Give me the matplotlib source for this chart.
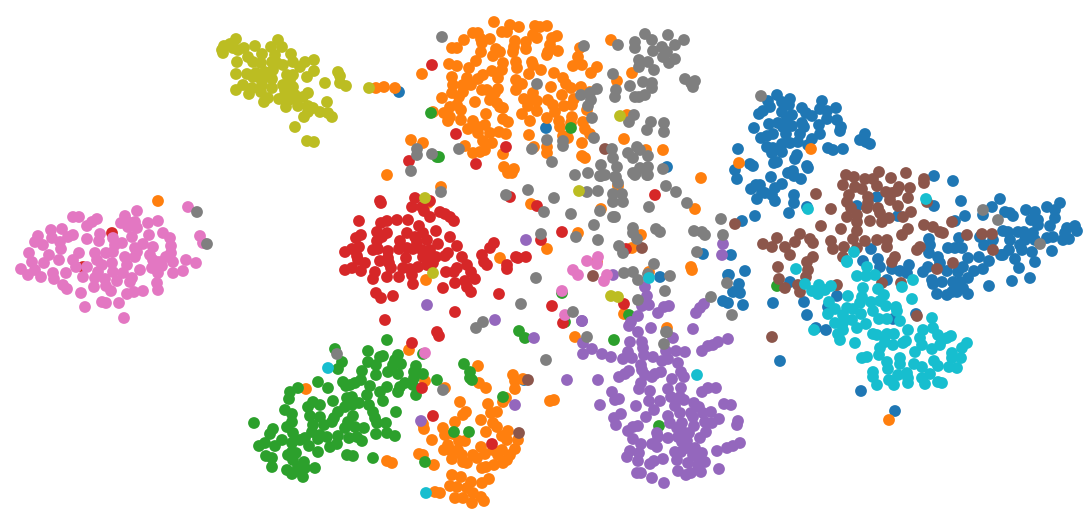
import numpy as np
import matplotlib
matplotlib.use('Agg')
import matplotlib.pyplot as plt

# embedding values, one list of (x, y) per class
class_0 = [(399,92),(546,128),(667,167),(703,254),(660,277),(728,275),(723,301),(728,303),
    (777,95),(768,101),(770,107),(763,111),(759,114),(782,102),(790,99),(789,105),(782,112),(792,115),(787,118),
    (802,108),(806,113),(812,116),(822,101),(820,109),(827,111),(827,119),(836,108),(837,120),(841,127),(840,131),
    (819,125),(820,134),(754,128),(769,124),(778,123),(783,127),(792,126),(802,123),(804,127),(800,134),(786,134),
    (773,134),(767,136),(761,138),(798,142),(790,143),(782,144),(812,139),(808,145),(767,147),(773,148),(772,153),
    (782,152),(738,149),(828,148),(833,150),(843,149),(865,134),(860,140),(866,142),(870,144),(797,155),(795,159),
    (777,162),(774,163),(807,166),(808,168),(750,164),(753,166),(735,170),(737,179),(788,173),(793,171),(794,176),
    (801,179),(771,177),(782,184),(760,185),(756,185),(751,189),(775,188),(762,192),(765,193),(757,199),(772,195),
    (775,201),(794,195),(794,203),(807,207),(789,213),(755,216),(742,221),(731,255),(745,271),(729,275),(739,284),
    (733,292),(740,293),(790,282),(934,176),(953,181),(877,197),(857,206),(934,206),(961,201),(1000,199),(992,207),
    (965,216),(955,221),(898,216),(983,215),(1005,212),(1010,213),(1013,216),(1026,210),(1035,212),(1047,207),
    (1060,203),(1055,210),(1055,218),(1050,226),(1031,220),(1038,220),(1038,225),(1003,231),(1008,232),(1018,232),
    (1024,232),(1033,233),(1035,240),(1067,228),(1075,226),(1077,231),(1065,233),(1063,240),(1069,239),(1053,237),
    (1047,238),(1025,240),(1020,245),(1022,250),(1032,252),(1052,251),(1035,262),(1010,240),(993,240),(984,245),
    (980,237),(1009,250),(1001,255),(1003,255),(1015,259),(1019,268),(989,261),(979,257),(968,258),(959,238),
    (929,239),(930,245),(929,253),(948,248),(955,248),(962,248),(938,257),(940,263),(928,267),(923,272),(947,271),
    (958,272),(963,267),(968,278),(974,271),(983,269),(953,282),(960,282),(955,288),(963,288),(968,294),(932,280),
    (933,284),(942,282),(937,294),(947,295),(952,292),(957,292),(989,286),(1012,281),(1030,278),(871,249),(863,261),
    (878,259),(880,267),(892,269),(900,271),(909,265),(907,273),(887,280),(837,296),(773,303),(804,302),(807,315),
    (816,328),(826,330),(780,361),(861,391),(895,411),(893,319),(916,314),(828,307),(524,380),(743,305)]

class_1 = [(158,201),(376,88),(384,87),(395,88),(494,22),(510,25),(519,27),(507,32),(502,32),(535,26),(540,27),(547,26),
    (473,33),(478,33),(464,40),(481,39),(482,43),(490,39),(515,41),(514,47),(533,35),(537,38),(526,42),(526,49),
    (557,36),(552,38),(550,45),(452,48),(457,48),(481,52),(496,49),(493,56),(500,52),(513,52),(558,51),(548,52),
    (547,55),(580,48),(578,57),(611,40),(476,61),(449,64),(457,66),(469,68),(422,74),(503,63),(502,70),(516,62),
    (517,68),(532,62),(533,65),(541,70),(529,74),(492,71),(483,75),(478,79),(498,78),(467,78),(452,77),(453,85),
    (463,85),(471,85),(516,80),(522,84),(516,90),(554,73),(563,78),(566,84),(571,88),(551,87),(573,66),(582,65),
    (597,67),(591,73),(632,73),(617,81),(581,87),(590,92),(482,90),(487,90),(498,89),(495,93),(452,93),(463,92),
    (459,97),(442,98),(475,102),(490,100),(497,103),(450,107),(457,105),(500,107),(503,108),(533,93),(524,99),
    (533,98),(537,101),(528,106),(537,111),(548,100),(553,105),(555,112),(562,95),(564,106),(572,105),(574,99),
    (587,110),(433,112),(444,113),(450,117),(448,121),(461,110),(461,120),(486,114),(522,114),(530,121),(547,118),
    (559,121),(572,117),(571,123),(583,122),(585,129),(590,134),(503,119),(508,122),(473,121),(468,129),(485,125),
    (478,127),(478,133),(490,133),(499,132),(506,134),(529,135),(560,127),(563,136),(568,138),(483,141),(492,143),
    (465,146),(411,140),(423,143),(473,153),(480,152),(485,150),(503,154),(534,147),(547,147),(547,153),(582,143),
    (582,156),(585,158),(624,139),(646,150),(663,150),(627,115),(504,167),(514,169),(508,173),(512,173),(701,178),
    (387,175),(441,187),(428,203),(426,280),(500,258),(531,204),(547,249),(578,233),(695,209),(641,235),(632,248),
    (601,209),(618,186),(691,267),(692,270),(649,272),(575,337),(624,314),(667,328),(597,262),(811,149),(739,163),
    (889,420),(409,350),(478,366),(425,381),(445,388),(306,389),(479,383),(486,388),(513,375),(523,379),(515,381),
    (515,389),(460,402),(488,404),(506,398),(503,402),(466,412),(463,415),(497,412),(491,413),(455,422),(481,420),
    (493,423),(497,427),(423,424),(424,429),(443,428),(445,435),(453,434),(486,432),(508,431),(502,436),(507,440),
    (518,440),(432,440),(459,441),(465,441),(448,445),(444,450),(450,450),(458,450),(481,447),(462,455),(452,459),
    (419,454),(423,455),(473,455),(477,458),(493,450),(485,454),(502,450),(498,455),(515,449),(510,455),(507,460),
    (463,462),(467,463),(434,465),(482,468),(486,467),(494,465),(503,463),(387,461),(392,463),(452,475),(461,477),
    (489,479),(471,482),(482,483),(450,486),(457,487),(467,488),(435,492),(440,493),(473,493),(455,498),(463,498),
    (481,497),(484,501),(472,503),(550,401),(554,400)]

class_2 = [(431,113),(571,128),(439,157),(437,157),(519,331),(525,338),(629,315),(565,322),(562,293),(614,340),(777,286),
    (387,340),(335,349),(368,351),(383,356),(380,357),(398,355),(342,362),(338,369),(368,362),(376,365),(395,360),
    (393,365),(401,364),(416,366),(388,372),(398,374),(414,372),(362,371),(376,375),(423,374),(414,378),(437,380),
    (361,380),(355,383),(350,385),(343,382),(318,382),(346,386),(370,386),(387,387),(328,388),(298,388),(290,392),
    (413,385),(405,383),(400,387),(398,392),(367,395),(380,392),(416,395),(289,399),(347,398),(352,397),(383,401),
    (333,401),(313,402),(320,405),(308,407),(359,403),(352,405),(369,405),(345,407),(338,412),(373,412),(396,412),
    (285,410),(292,414),(310,416),(320,417),(353,416),(334,418),(375,418),(254,423),(292,422),(287,427),(313,425),
    (324,425),(332,422),(348,422),(386,423),(377,423),(345,428),(355,427),(364,428),(312,432),(273,429),(270,434),
    (293,433),(320,435),(327,437),(338,436),(376,434),(387,433),(395,436),(282,440),(265,443),(259,446),(275,446),
    (292,443),(300,440),(305,438),(318,439),(349,438),(357,437),(362,441),(309,446),(337,444),(330,447),(318,452),
    (292,452),(296,453),(288,455),(347,455),(353,456),(373,458),(266,456),(272,458),(272,467),(293,460),(304,462),
    (298,467),(305,468),(315,468),(287,470),(292,474),(303,477),(297,471),(464,364),(470,372),(470,378),(472,380),
    (469,432),(425,462),(503,397),(454,432),(423,354),(659,426)]

class_3 = [(112,233),(83,267),(432,65),(456,134),(506,147),(409,161),(476,164),
    (415,198),(380,201),(381,203),(430,201),(412,207),(422,207),(424,211),(440,212),(445,214),(450,217),(454,221),
    (430,217),(408,220),(397,220),(387,221),(381,223),(359,221),(419,226),(436,231),(407,233),(387,233),(377,232),
    (382,237),(361,235),(356,238),(377,241),(400,241),(415,237),(423,233),(427,240),(438,244),(450,237),(457,246),
    (417,242),(359,247),(352,249),(345,252),(373,250),(378,249),(399,249),(407,248),(413,249),(422,250),(430,250),
    (388,251),(357,256),(358,260),(365,263),(406,258),(380,261),(388,258),(389,263),(423,257),(430,258),(436,257),
    (445,256),(448,253),(462,257),(467,265),(345,270),(352,268),(361,271),(375,272),(373,279),(391,268),(387,277),
    (403,268),(399,277),(410,269),(412,275),(418,267),(427,265),(433,263),(446,272),(454,272),(457,268),(471,272),
    (475,279),(465,281),(455,283),(413,284),(443,288),(467,287),(471,292),(376,293),(381,298),(393,296),(499,294),
    (455,312),(385,320),(437,332),(439,336),(482,255),(484,262),(487,265),(490,248),(494,243),(516,257),(518,258),
    (526,257),(507,265),(507,269),(510,197),(537,206),(541,240),(562,232),(626,249),(655,195),(552,306),(624,304),
    (563,323),(412,343),(422,388),(433,416),(492,444)]

class_4 = [(526,240),(427,305),(495,320),(582,321),(534,338),(723,244),(722,255),(613,275),(421,421),(515,405),(567,380),
    (645,287),(647,296),(642,306),(649,305),(669,306),(664,307),(658,313),(704,304),(700,308),(696,313),(638,316),
    (631,322),(629,326),(638,332),(651,328),(693,329),(582,321),(673,338),(728,339),(718,342),(713,345),(708,346),
    (702,351),(583,343),(583,354),(592,349),(602,354),(611,357),(630,342),(642,342),(643,348),(666,351),(676,351),
    (685,352),(628,352),(623,359),(632,358),(644,355),(653,357),(662,361),(668,359),(678,363),(641,365),(642,370),
    (629,371),(625,374),(619,377),(645,375),(652,377),(655,374),(661,372),(681,372),(684,377),(598,380),(672,379),
    (641,383),(639,389),(668,389),(650,391),(681,388),(612,392),(619,399),(615,400),(671,397),(680,397),(684,400),
    (649,401),(660,401),(702,392),(708,388),(716,388),(600,405),(636,406),(675,406),(694,403),(699,407),(724,404),
    (731,405),(654,410),(680,413),(691,413),(703,413),(711,412),(621,414),(614,418),(646,417),(668,416),(670,423),
    (693,417),(705,422),(712,423),(719,419),(738,421),(737,425),(616,425),(638,426),(633,427),(628,431),(682,423),
    (677,428),(694,426),(657,433),(683,432),(689,433),(706,432),(700,438),(633,439),(658,437),(668,438),(678,437),
    (687,441),(682,442),(641,444),(652,444),(657,447),(687,448),(681,452),(740,443),(733,446),(727,448),(717,451),
    (695,448),(702,453),(630,451),(627,457),(639,453),(638,461),(675,452),(677,460),(663,459),(654,461),(650,464),
    (693,455),(698,458),(705,462),(688,463),(698,465),(701,472),(719,469),(678,471),(686,475),(691,473),(637,473),
    (641,473),(652,478),(664,483)]

class_5 = [(605,149),(642,248),(593,276),(528,380),(519,433),(735,224),
    (846,175),(854,177),(865,179),(873,179),(879,172),(891,178),(906,173),(924,179),(924,183),(843,185),(855,187),
    (862,189),(877,186),(899,187),(910,188),(897,191),(886,192),(892,193),(849,195),(868,197),(890,200),(908,198),
    (847,202),(868,203),(898,206),(851,208),(867,208),(878,208),(831,209),(927,202),(816,194),(880,213),(911,212),
    (847,217),(857,215),(857,222),(870,221),(882,222),(889,218),(903,217),(952,222),(924,225),(933,227),(940,232),
    (943,233),(821,226),(841,229),(857,231),(908,229),(902,235),(967,235),(982,234),(992,234),(800,234),(777,238),
    (763,244),(772,247),(785,247),(795,242),(810,239),(813,243),(853,239),(865,241),(877,240),(887,240),(887,247),
    (831,241),(833,249),(844,247),(857,248),(920,247),(917,250),(993,250),(790,255),(813,257),(843,257),(895,257),
    (892,262),(807,262),(953,263),(937,269),(778,267),(808,270),(806,277),(779,279),(785,288),(798,285),(800,292),
    (882,283),(901,283),(837,285),(772,337),(917,316)]

class_6 = [(73,217),(79,217),(97,219),(92,222),(87,226),(125,216),(137,211),(121,223),(128,222),(135,222),(128,227),
    (137,228),(148,223),(158,221),(149,235),(163,233),(170,238),(171,246),(171,253),(166,257),(159,262),(153,247),
    (143,244),(135,248),(132,237),(122,243),(113,238),(100,234),(99,241),(87,239),(62,229),(51,230),(38,236),(35,242),
    (43,245),(52,238),(60,242),(68,237),(73,235),(61,249),(29,253),(49,255),(44,263),(32,262),(21,269),(28,275),
    (35,270),(41,277),(53,273),(54,279),(59,260),(66,273),(73,260),(79,253),(76,267),(83,277),(87,267),(95,253),
    (97,260),(106,253),(113,252),(115,245),(125,257),(135,257),(137,252),(150,255),(153,260),(152,268),(162,266),
    (173,262),(173,273),(183,271),(186,260),(196,263),(158,273),(140,270),(132,278),(130,282),(117,281),(123,273),
    (127,265),(112,263),(113,272),(102,265),(98,272),(95,278),(105,279),(106,286),(111,291),(94,287),(63,285),(67,289),
    (81,293),(85,307),(102,302),(106,303),(119,303),(124,318),(127,294),(134,292),(143,291),(157,283),(158,290),
    (188,207),(200,236),(203,243),(598,257),(587,261),(597,264),(573,270),(578,275),(607,275),(604,281),(562,291),
    (565,315),(425,353)]

class_7 = [(197,212),(207,244),(442,37),(584,46),(618,45),(635,42),(635,48),(645,34),(652,40),(668,35),(684,40),(675,45),
    (662,47),(653,51),(667,52),(663,57),(675,59),(669,63),(639,60),(648,62),(639,67),(654,70),(613,74),(685,79),
    (695,81),(691,83),(693,87),(630,86),(643,82),(652,83),(652,88),(645,95),(639,97),(635,97),(616,90),(615,97),
    (597,89),(590,93),(581,95),(591,100),(588,106),(592,118),(634,115),(629,122),(651,122),(664,123),(664,132),
    (647,130),(537,84),(594,138),(547,140),(563,141),(563,146),(532,149),(459,149),(417,149),(417,155),(432,154),
    (411,171),(552,162),(612,149),(613,158),(617,167),(628,153),(637,147),(640,150),(633,158),(648,156),(601,165),
    (575,175),(588,173),(601,176),(605,175),(616,177),(633,173),(640,168),(648,167),(647,175),(663,169),(636,173),
    (441,192),(506,195),(528,190),(554,198),(544,212),(571,214),(541,234),(576,237),(598,240),(600,176),(615,177),
    (618,183),(587,192),(598,191),(613,194),(622,194),(613,202),(623,202),(594,225),(600,211),(613,217),(615,217),
    (649,207),(666,186),(676,192),(687,203),(633,228),(633,233),(637,239),(619,246),(623,253),(656,229),(660,232),
    (694,231),(702,232),(705,235),(721,219),(723,235),(697,252),(654,264),(624,273),(633,272),(638,280),(648,274),
    (670,276),(665,291),(638,300),(711,297),(536,278),(521,304),(573,312),(483,322),(476,328),(667,332),(587,337),
    (635,175),(648,175),(727,283),(732,315),(761,96),(983,210),(998,220),(1040,244),(337,354),(443,390),(546,360),
    (666,332),(664,344)]

class_8 = [(236,39),(230,44),(224,46),(222,50),(223,53),(233,48),(238,50),(244,48),(237,62),(248,57),(255,46),(262,54),
    (253,62),(261,63),(278,40),(271,47),(282,47),(275,55),(272,62),(277,63),(283,65),(291,54),(293,62),(300,67),
    (305,62),(314,60),(314,71),(236,74),(247,74),(256,73),(265,72),(273,70),(262,80),(253,77),(243,85),(236,90),
    (252,88),(249,94),(261,92),(272,79),(272,88),(287,75),(293,75),(290,80),(283,85),(293,87),(307,77),(268,98),
    (264,102),(279,99),(285,90),(289,100),(286,107),(298,98),(298,106),(308,93),(303,97),(308,106),(313,108),(308,112),
    (304,117),(320,112),(328,113),(332,117),(327,102),(325,83),(338,72),(340,76),(340,83),(346,86),(295,127),(307,141),
    (314,142),(369,88),(258,77),(262,85),(285,95),(295,95),(620,116),(425,198),(579,191),(433,273),(611,296),(618,297)]

class_9 = [(926,199),(808,209),(854,252),(847,261),(649,278),(328,368),(426,493),(697,375),
    (796,269),(847,262),(867,267),(857,276),(866,276),(875,275),(913,280),(902,287),(805,284),(812,291),(819,285),
    (818,294),(825,290),(831,286),(863,288),(878,289),(848,296),(862,297),(884,295),(912,299),(829,302),(871,302),
    (880,301),(886,306),(896,307),(835,309),(847,308),(853,309),(860,303),(873,311),(897,311),(828,314),(843,315),
    (861,314),(852,320),(879,319),(887,319),(900,321),(932,318),(835,323),(843,323),(866,324),(857,328),(843,330),
    (814,330),(838,334),(840,340),(855,343),(873,334),(877,335),(887,334),(894,334),(908,330),(933,328),(923,330),
    (920,338),(885,342),(893,345),(906,341),(903,343),(922,345),(938,335),(942,340),(947,338),(951,336),(940,345),
    (932,349),(967,343),(962,348),(880,348),(879,355),(915,352),(952,353),(952,358),(961,358),(862,358),(867,357),
    (887,362),(900,358),(900,364),(888,369),(914,364),(922,367),(934,361),(938,366),(949,367),(957,368),(873,372),
    (873,377),(898,375),(907,373),(908,378),(908,383),(889,380),(894,385),(877,385),(922,378),(930,374),(925,384),
    (938,382),(942,383)]

classes = [class_0, class_1, class_2, class_3, class_4, class_5, class_6, class_7, class_8, class_9]

fig = plt.figure(figsize=(10.88, 5.16), dpi=100)
ax = fig.add_axes([0, 0, 1, 1])
cmap = plt.get_cmap('tab10')

for i, pts in enumerate(classes):
    pts = np.array(pts)
    ax.scatter(pts[:, 0], pts[:, 1], s=72, color=cmap(i), edgecolors='none')

ax.set_xlim(0, 1088)
ax.set_ylim(516, 0)
ax.axis('off')

fig.savefig('out.png', dpi=100)
